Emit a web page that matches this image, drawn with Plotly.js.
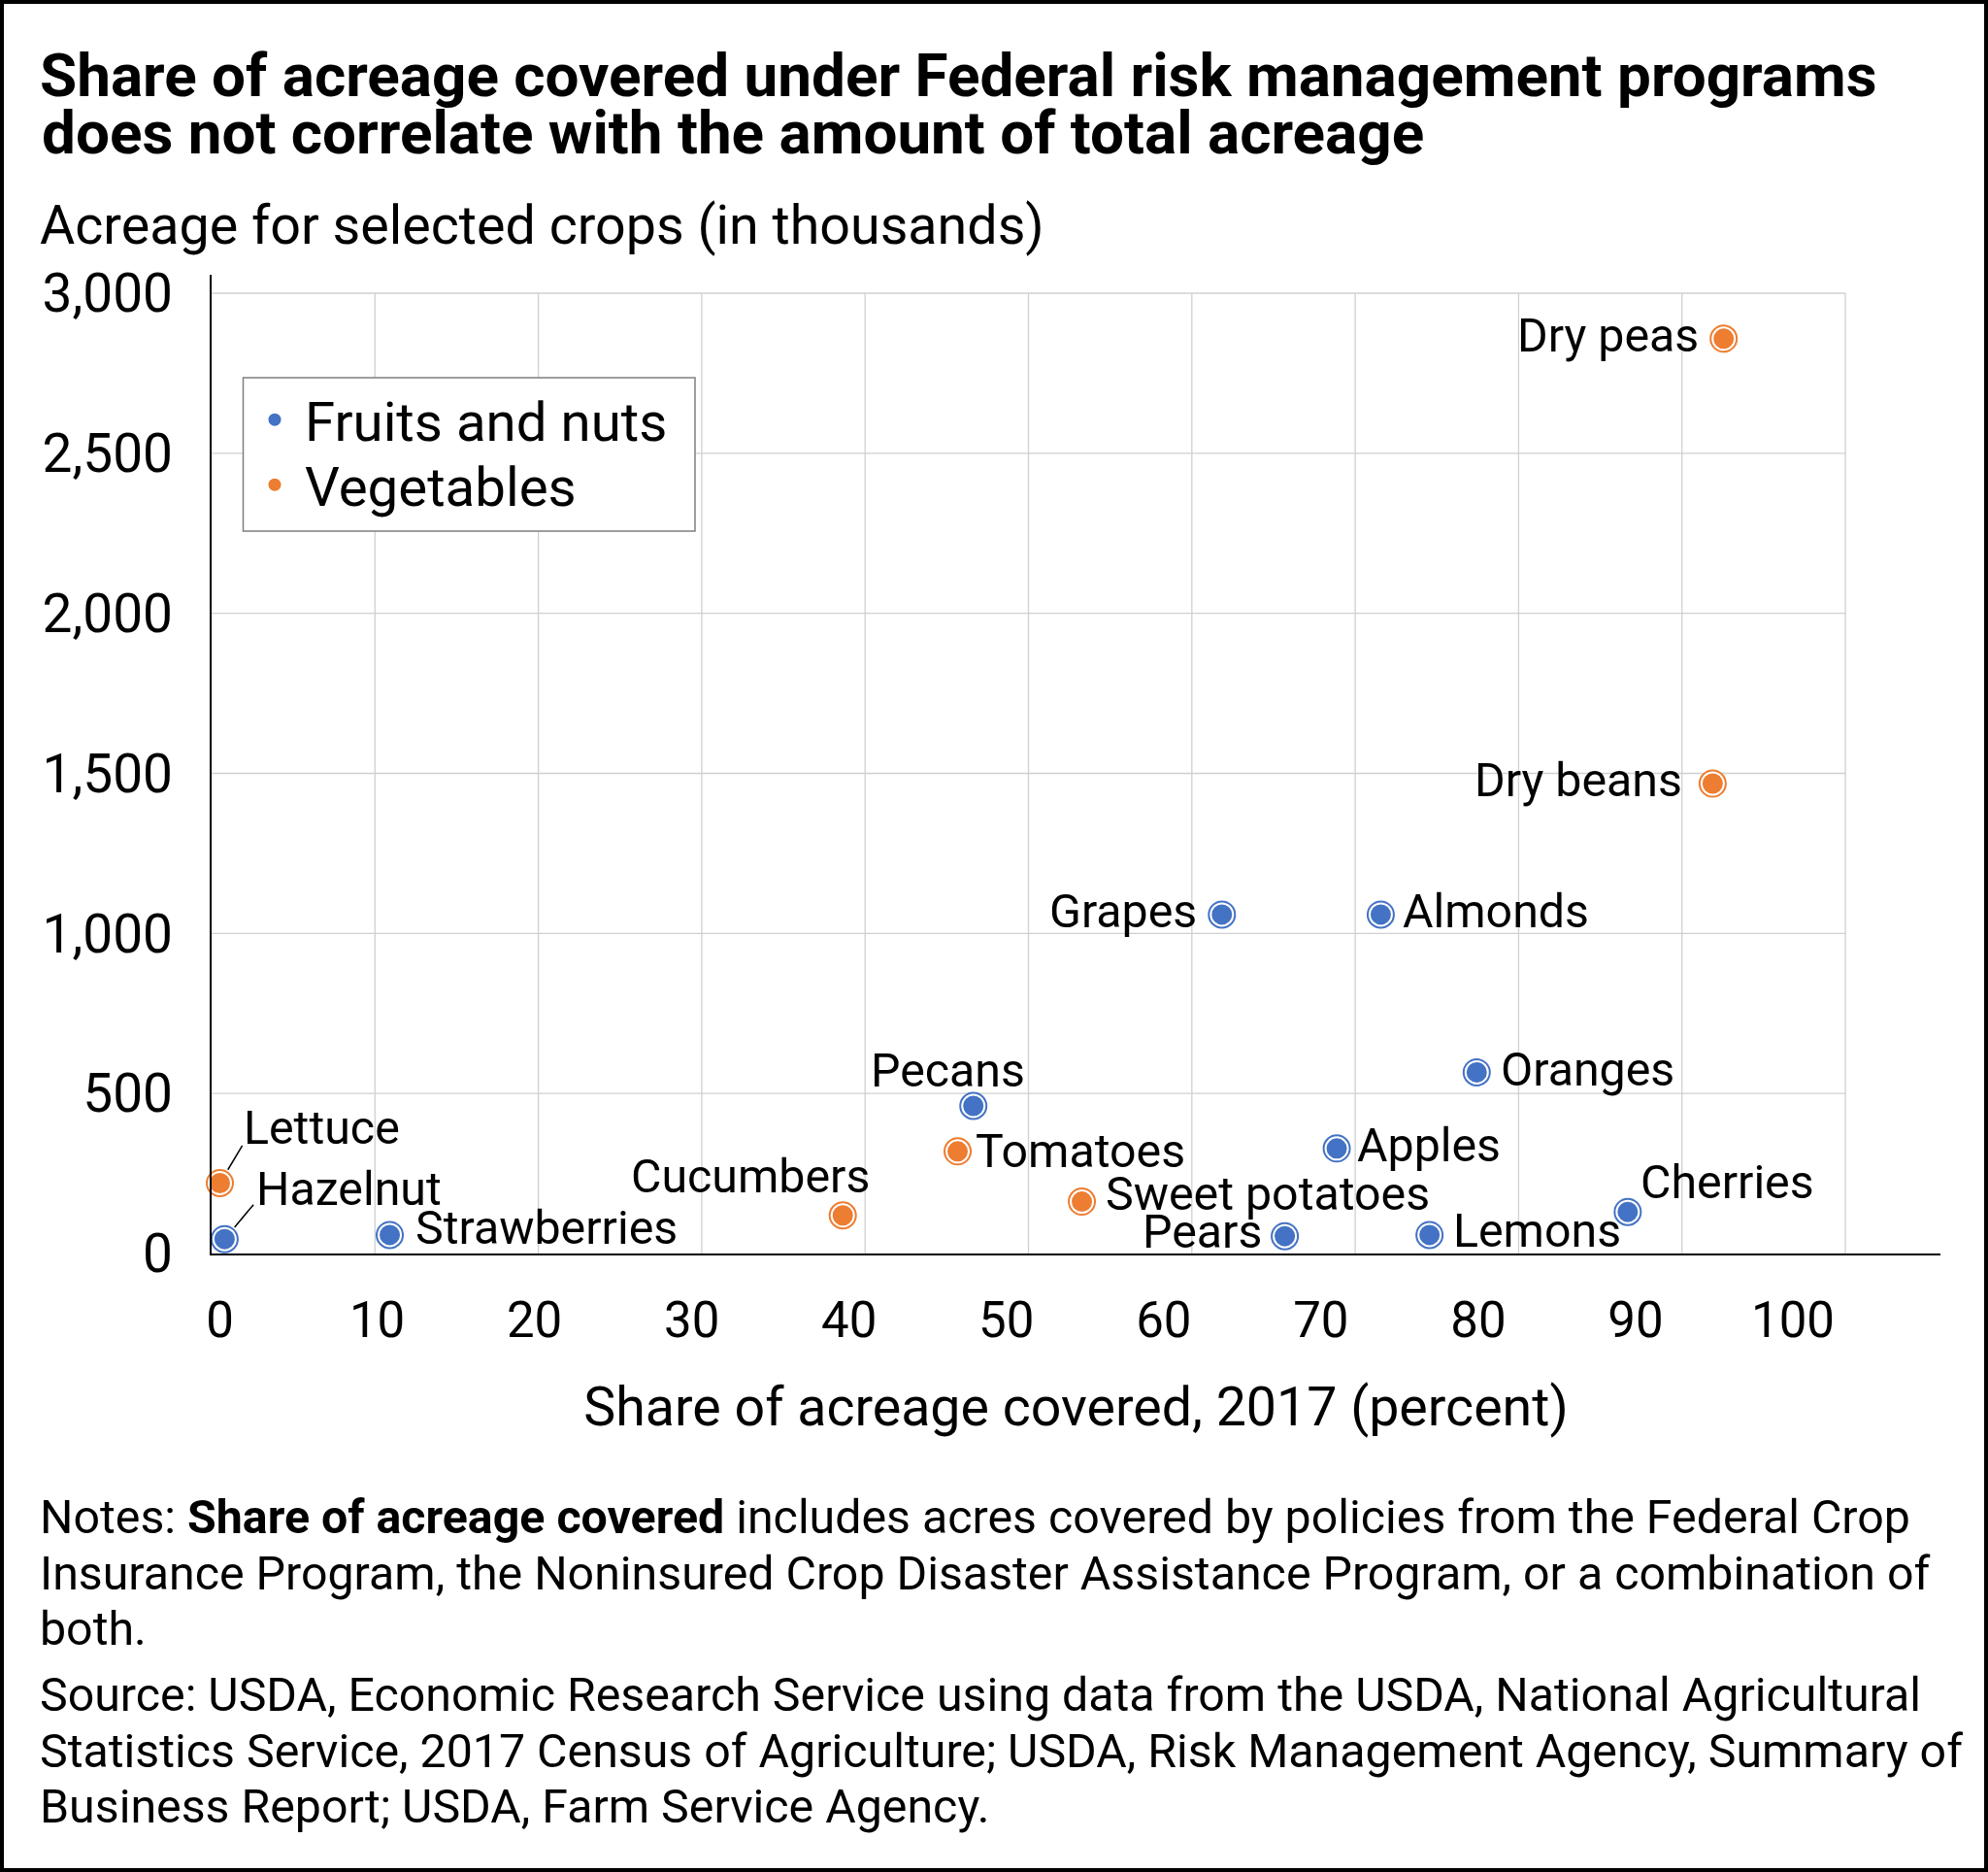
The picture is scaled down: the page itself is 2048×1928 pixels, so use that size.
<!DOCTYPE html>
<html>
<head>
<meta charset="utf-8">
<script src="https://cdn.plot.ly/plotly-3.0.1.min.js"></script>
<style>
  html, body { margin: 0; padding: 0; background: #fff; }
  #wrap { position: relative; width: 2048px; height: 1928px; }
  #chart { width: 2048px; height: 1928px; }
  #frame { position: absolute; left: 0; top: 0; width: 2048px; height: 1928px; box-sizing: border-box; border: 4px solid #000; pointer-events: none; }
</style>
</head>
<body>
<div id="wrap"><div id="chart"></div><div id="frame"></div></div>
<script>
// ---- data ----
const fruitNames = ['Hazelnut', 'Strawberries', 'Pecans', 'Grapes', 'Pears', 'Apples', 'Almonds', 'Lemons', 'Oranges', 'Cherries'];
const fruitShare = [0.3, 10.8, 47.9, 63.7, 67.7, 71.0, 73.8, 76.9, 79.9, 89.5];
const fruitAcres = [45, 58, 461, 1059, 54, 328, 1059, 58, 566, 130];

const vegNames = ['Lettuce', 'Cucumbers', 'Tomatoes', 'Sweet potatoes', 'Dry beans', 'Dry peas'];
const vegShare = [0, 39.6, 46.9, 54.8, 94.9, 95.6];
const vegAcres = [220, 119, 319, 162, 1468, 2858];

const xTicks = [0, 10, 20, 30, 40, 50, 60, 70, 80, 90, 100];
const yTicks = [0, 500, 1000, 1500, 2000, 2500, 3000];

const titleLines = [
  'Share of acreage covered under Federal risk management programs',
  'does not correlate with the amount of total acreage'
];
const noteLines = [
  'Notes: <b>Share of acreage covered</b> includes acres covered by policies from the Federal Crop',
  'Insurance Program, the Noninsured Crop Disaster Assistance Program, or a combination of',
  'both.',
  'Source: USDA, Economic Research Service using data from the USDA, National Agricultural',
  'Statistics Service, 2017 Census of Agriculture; USDA, Risk Management Agency, Summary of',
  'Business Report; USDA, Farm Service Agency.'
];

// ---- styling / layout constants ----
const BLUE = '#4472C4';
const ORANGE = '#ED7D31';
const FONT = 'Roboto, "Liberation Sans", sans-serif';
const W = 2048, H = 1928;
const M = { l: 218, r: 49, t: 283, b: 637 };
const PW = W - M.l - M.r, PH = H - M.t - M.b;
const xRange = [-0.525, 109.38];
const yRange = [0, 3057.6];
// the reference's vertical gridlines do not sit on its tick labels
const gridStart = -0.525, gridStep = 10.386, gridCount = 10;
const gridTop = 3000;
const noteBaselines = [1580, 1638, 1695, 1763, 1821, 1878];
const NOTE_SIZE = 48.3;
const legendBox = { left: 250.5, top: 389, right: 716, bottom: 547 };

function px2x(p) { return (p - M.l) / PW; }
function py2y(p) { return (M.t + PH - p) / PH; }

// label placements: side, horizontal shift, vertical shift (px, down positive)
const labelPlace = {
  'Lettuce':        ['left', 22, -57],
  'Hazelnut':       ['left', 31, -52],
  'Strawberries':   ['left', 24, -7],
  'Cucumbers':      ['center', -95, -40],
  'Pecans':         ['center', -26, -37],
  'Tomatoes':       ['left', 16, 0],
  'Sweet potatoes': ['left', 22, -8],
  'Pears':          ['right', -22, -5],
  'Apples':         ['left', 19, -3],
  'Lemons':         ['left', 22, -4],
  'Oranges':        ['left', 23, -3],
  'Cherries':       ['left', 11, -31],
  'Grapes':         ['right', -24, -3],
  'Almonds':        ['left', 21, -3],
  'Dry peas':       ['right', -24, -3],
  'Dry beans':      ['right', -29, -4]
};
const leaders = {
  'Lettuce':  [24, -40],
  'Hazelnut': [31, -37]
};

function fillTrace(name, xs, ys, color, legendId) {
  return {
    type: 'scatter', mode: 'markers', name: name, x: xs, y: ys, legend: legendId,
    marker: { symbol: 'circle', size: 24, color: color, line: { color: '#ffffff', width: 3 } },
    hoverinfo: 'x+y', cliponaxis: false
  };
}
function ringTrace(name, xs, ys, color) {
  return {
    type: 'scatter', mode: 'markers', name: name, x: xs, y: ys, showlegend: false,
    marker: { symbol: 'circle-open', size: 27, color: color, line: { color: color, width: 2 } },
    hoverinfo: 'skip', cliponaxis: false
  };
}

const traces = [
  fillTrace('Fruits and nuts', fruitShare, fruitAcres, BLUE, 'legend'),
  fillTrace('Vegetables', vegShare, vegAcres, ORANGE, 'legend2'),
  ringTrace('Fruits and nuts', fruitShare, fruitAcres, BLUE),
  ringTrace('Vegetables', vegShare, vegAcres, ORANGE)
];

// gridlines limited to the 0-100 / 0-3000 box, like the reference
const shapes = [];
for (let k = 1; k <= gridCount; k++) {
  const gx = gridStart + k * gridStep;
  shapes.push({ type: 'line', layer: 'below', xref: 'x', yref: 'y', x0: gx, x1: gx, y0: 0, y1: gridTop,
    line: { color: '#d0d0d0', width: 1.3 } });
}
const gridEnd = gridStart + gridCount * gridStep;
yTicks.forEach(function (v) {
  if (v === 0) return;
  shapes.push({ type: 'line', layer: 'below', xref: 'x', yref: 'y', x0: gridStart, x1: gridEnd, y0: v, y1: v,
    line: { color: '#d0d0d0', width: 1.3 } });
});
// legend frame (both legend entries sit inside it)
shapes.push({ type: 'rect', layer: 'above', xref: 'paper', yref: 'paper',
  x0: px2x(legendBox.left), x1: px2x(legendBox.right), y0: py2y(legendBox.bottom), y1: py2y(legendBox.top),
  fillcolor: '#ffffff', line: { color: '#7f7f7f', width: 1.5 } });

const annotations = [];
function addLabels(names, xs, ys) {
  names.forEach(function (n, i) {
    const p = labelPlace[n];
    annotations.push({
      xref: 'x', yref: 'y', x: xs[i], y: ys[i], text: n, showarrow: false,
      xanchor: p[0], yanchor: 'middle', xshift: p[1], yshift: -p[2],
      font: { family: FONT, size: 48.3, color: '#000' }
    });
    if (leaders[n]) {
      annotations.push({
        xref: 'x', yref: 'y', x: xs[i], y: ys[i], text: '', showarrow: true,
        arrowhead: 0, arrowwidth: 1.5, arrowcolor: '#000', standoff: 16,
        ax: leaders[n][0], ay: leaders[n][1]
      });
    }
  });
}
addLabels(fruitNames, fruitShare, fruitAcres);
addLabels(vegNames, vegShare, vegAcres);

// title line 2, y-axis title, notes and source
annotations.push({
  xref: 'paper', yref: 'paper', x: px2x(41), y: py2y(136), xanchor: 'left', yanchor: 'middle',
  text: titleLines[1], showarrow: false,
  font: { family: FONT, size: 62, weight: 700, color: '#000' }
});
annotations.push({
  xref: 'paper', yref: 'paper', x: px2x(39), y: py2y(232), xanchor: 'left', yanchor: 'middle',
  text: 'Acreage for selected crops (in thousands)', showarrow: false,
  font: { family: FONT, size: 55.6, color: '#000' }
});
noteLines.forEach(function (t, i) {
  annotations.push({
    xref: 'paper', yref: 'paper', x: px2x(39), y: py2y(noteBaselines[i] - 0.355 * NOTE_SIZE),
    xanchor: 'left', yanchor: 'middle', align: 'left', text: t, showarrow: false,
    font: { family: FONT, size: NOTE_SIZE, color: '#000' }
  });
});

const legendCommon = {
  xanchor: 'left', yanchor: 'top', bgcolor: 'rgba(0,0,0,0)', borderwidth: 0,
  font: { family: FONT, size: 56.4, color: '#000' }, itemwidth: 52
};

const layout = {
  width: W, height: H,
  margin: M,
  paper_bgcolor: '#ffffff', plot_bgcolor: '#ffffff',
  font: { family: FONT, color: '#000' },
  title: {
    text: titleLines[0],
    font: { family: FONT, size: 62, weight: 700, color: '#000' },
    x: 41 / W, xanchor: 'left', xref: 'container',
    y: 1 - 77 / H, yanchor: 'middle', yref: 'container'
  },
  xaxis: {
    range: xRange, tickmode: 'array', tickvals: xTicks, ticktext: xTicks.map(String),
    showgrid: false, zeroline: false, showline: true, linecolor: '#000', linewidth: 2,
    ticks: '', ticklabelstandoff: 23,
    tickfont: { family: FONT, size: 51, color: '#000' },
    title: { text: 'Share of acreage covered, 2017 (percent)', standoff: 41,
             font: { family: FONT, size: 55.5, color: '#000' } },
    fixedrange: true
  },
  yaxis: {
    range: yRange, tickmode: 'array', tickvals: yTicks, tickformat: ',',
    showgrid: false, zeroline: false, showline: true, linecolor: '#000', linewidth: 2,
    ticks: '', ticklabelstandoff: 27,
    tickfont: { family: FONT, size: 55, color: '#000' },
    fixedrange: true
  },
  legend: Object.assign({ x: px2x(252), y: py2y(389) }, legendCommon),
  legend2: Object.assign({ x: px2x(252), y: py2y(456) }, legendCommon),
  showlegend: true,
  shapes: shapes,
  annotations: annotations
};

Plotly.newPlot('chart', traces, layout, { displayModeBar: false, staticPlot: true });
</script>
</body>
</html>
